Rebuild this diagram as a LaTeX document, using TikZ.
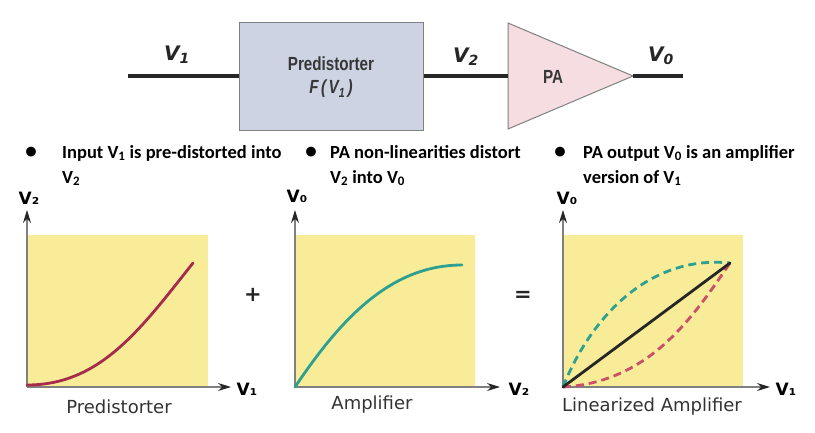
\documentclass[tikz,border=0pt]{standalone}
\usepackage{fontspec}
\setmainfont{DejaVu Sans}
\newfontfamily\carl{Carlito}
\newfontfamily\libs{Liberation Sans}
\usetikzlibrary{arrows.meta}
\definecolor{yel}{RGB}{248,236,152}
\definecolor{boxfill}{RGB}{205,211,227}
\definecolor{trifill}{RGB}{245,221,226}
\definecolor{edgegray}{RGB}{128,128,128}
\definecolor{txtgray}{RGB}{55,55,55}
\definecolor{maroon}{RGB}{165,45,75}
\definecolor{tealc}{RGB}{45,160,145}
\definecolor{reddash}{RGB}{200,80,105}
\tikzset{
  wire/.style={line width=3.6pt, black!85},
  blk/.style={draw=edgegray, line width=1pt, fill=boxfill, minimum width=184pt, minimum height=108pt, inner sep=0pt},
  blktxt/.style={font=\libs\bfseries\fontsize{19}{19}\selectfont, text=txtgray, inner sep=0pt},
  sig/.style={font=\bfseries\itshape\fontsize{20}{20}\selectfont, text=black!85, inner sep=0pt},
  bul/.style={font=\carl\bfseries\fontsize{18.5}{18.5}\selectfont, anchor=base west, inner sep=0pt},
  bulmark/.style={font=\carl\bfseries\fontsize{23}{23}\selectfont, inner sep=0pt},
  axlab/.style={font=\bfseries\fontsize{17}{17}\selectfont, inner sep=0pt},
  oplab/.style={font=\bfseries\fontsize{21}{21}\selectfont, text=black!85, inner sep=0pt},
  plotcaption/.style={font=\fontsize{18}{18}\selectfont, text=black!80, inner sep=0pt},
  axis/.style={draw=edgegray, line width=1.3pt, -{Stealth[length=13pt,width=8pt,color=black!85]}},
  curve/.style={line width=2.8pt, line cap=round},
  dcurve/.style={line width=2.8pt, dash pattern=on 8pt off 5pt},
}
\begin{document}
\begin{tikzpicture}[x=1pt,y=-1pt]
\useasboundingbox (0,0) rectangle (815,432);

% ---- top block diagram ----
\node[blk] (pre) at (331,76) {};
\node[blktxt] (pret) at (331,64) {\scalebox{0.8}[1]{Predistorter}};
\node[blktxt] (pref) at (331,89) {\scalebox{0.8}[1]{\itshape F\,(\,V\textsubscript{1}\,)}};
\coordinate (ta) at (508,23);
\coordinate (tb) at (508,129);
\coordinate (tip) at (633,76);
\coordinate (pain) at (508,76);
\draw[draw=edgegray, line width=1pt, fill=trifill] (ta) -- (tip) -- (tb) -- cycle;
\node[blktxt] (pa) at (553,77) {\scalebox{0.8}[1]{PA}};
\coordinate (in1) at (128,76);
\coordinate (out) at (683,76);
\draw[wire] (in1) -- (pre.west);
\draw[wire] (pre.east) -- (pain);
\draw[wire] (tip) -- (out);
\node[sig] (s1) at (177,55) {V\textsubscript{1}};
\node[sig] (s2) at (466,57) {V\textsubscript{2}};
\node[sig] (s0) at (661,56) {V\textsubscript{0}};

% ---- bullets ----
\node[bulmark] (b1) at (31,153) {•};
\node[bul] (t1a) at (62,158) {Input V\textsubscript{1} is pre-distorted into};
\node[bul] (t1b) at (62,183) {V\textsubscript{2}};
\node[bulmark] (b2) at (311,153) {•};
\node[bul] (t2a) at (330,158) {PA non-linearities distort};
\node[bul] (t2b) at (330,183) {V\textsubscript{2} into V\textsubscript{0}};
\node[bulmark] (b3) at (560,153) {•};
\node[bul] (t3a) at (583,158) {PA output V\textsubscript{0} is an amplifier};
\node[bul] (t3b) at (583,183) {version of V\textsubscript{1}};

% ---- plot 1 ----
\begin{scope}[shift={(27,387)}]
  \fill[yel] (0,0) rectangle (181,-152);
  \draw[axis] (0,0) -- (0,-177);
  \draw[axis] (0,0) -- (204,0);
  \draw[curve, maroon] (0,-2) .. controls (73,-2) and (113,-57) .. (166,-124);
\end{scope}
\node[axlab] (p1y) at (29,198) {V₂};
\node[axlab] (p1x) at (247,389) {V₁};
\node[plotcaption] (p1c) at (119,407) {Predistorter};

% ---- plot 2 ----
\begin{scope}[shift={(295,387)}]
  \fill[yel] (0,0) rectangle (180,-152);
  \draw[axis] (0,0) -- (0,-177);
  \draw[axis] (0,0) -- (205,0);
  \draw[curve, tealc] (0,0) .. controls (45,-67) and (95,-122) .. (167,-122);
\end{scope}
\node[axlab] (p2y) at (297,196) {V₀};
\node[axlab] (p2x) at (519,389) {V₂};
\node[plotcaption] (p2c) at (372,405) {Amplifier};

% ---- plot 3 ----
\begin{scope}[shift={(563,387)}]
  \fill[yel] (0,0) rectangle (180,-152);
  \draw[axis] (0,0) -- (0,-177);
  \draw[axis] (0,0) -- (207,0);
  \draw[dcurve, tealc] (0,0) .. controls (30,-75) and (90,-132) .. (167,-124);
  \draw[dcurve, reddash] (0,0) .. controls (87,-5) and (130,-70) .. (167,-124);
  \draw[curve, black!85] (0,0) -- (167,-124);
\end{scope}
\node[axlab] (p3y) at (567,198) {V₀};
\node[axlab] (p3x) at (786,389) {V₁};
\node[plotcaption] (p3c) at (652,407) {Linearized Amplifier};

% ---- operators ----
\node[oplab] (plus) at (253,295) {+};
\node[oplab] (eq) at (523,296) {=};
\end{tikzpicture}
\end{document}
